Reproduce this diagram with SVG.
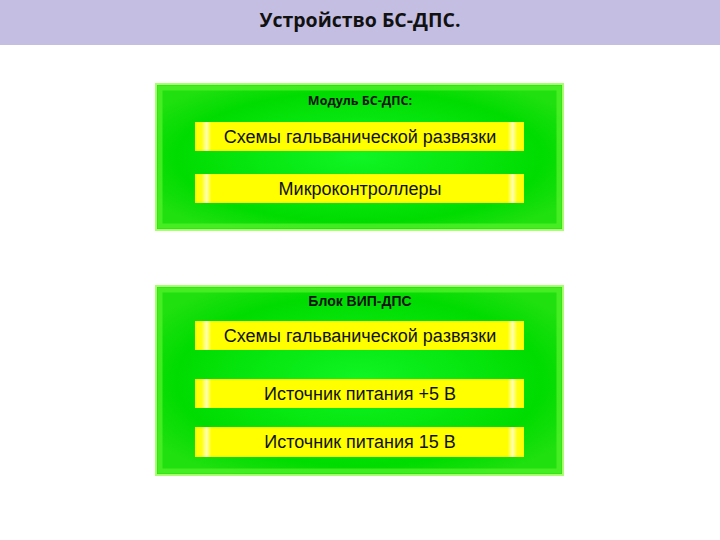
<svg xmlns="http://www.w3.org/2000/svg" width="720" height="540" viewBox="0 0 720 540">
<style>
.title{font-family:"Open Sans","Liberation Sans",sans-serif;font-weight:bold;font-size:19.5px;fill:#111;text-anchor:middle}
.hdr1{font-family:"Open Sans","Liberation Sans",sans-serif;font-weight:bold;font-size:12.5px;fill:#111;text-anchor:middle}
.hdr2{font-family:"Liberation Sans",sans-serif;font-weight:bold;font-size:14px;fill:#111;text-anchor:middle}
.lbl{font-family:"Liberation Sans",sans-serif;font-size:18px;fill:#111;text-anchor:middle}
.box{fill:url(#gg);stroke:#A8FF70;stroke-width:2}
.inner{fill:none;stroke:#50F028;stroke-width:5;opacity:0.8}
.bar{fill:url(#yg)}
</style>
<defs>
<radialGradient id="gg" cx="0.5" cy="0.5" r="0.6">
<stop offset="0" stop-color="#10F525"/>
<stop offset="0.75" stop-color="#00DC00"/>
<stop offset="1" stop-color="#20E010"/>
</radialGradient>
<linearGradient id="yg" x1="0" y1="0" x2="1" y2="0">
<stop offset="0" stop-color="#FFFF00"/>
<stop offset="0.02" stop-color="#FFFF10"/>
<stop offset="0.035" stop-color="#FFFFB0"/>
<stop offset="0.05" stop-color="#FFFF00"/>
<stop offset="0.95" stop-color="#FFFF00"/>
<stop offset="0.965" stop-color="#FFFFB0"/>
<stop offset="0.98" stop-color="#FFFF10"/>
<stop offset="1" stop-color="#FFFF00"/>
</linearGradient>
</defs>
<rect x="0" y="0" width="720" height="540" fill="#fff"/>
<rect x="0" y="0" width="720" height="45" fill="#C4BEE2"/>
<text class="title" x="360" y="27">Устройство БС-ДПС.</text>
<g id="module">
<rect class="box" x="156" y="84" width="407" height="146"/>
<rect class="inner" x="160" y="88" width="399" height="138"/>
<text class="hdr1" x="360" y="105">Модуль БС-ДПС:</text>
<g id="m-galv"><rect class="bar" x="195" y="122" width="329" height="29"/><text class="lbl" x="360" y="143">Схемы гальванической развязки</text></g>
<g id="m-mcu"><rect class="bar" x="195" y="174" width="329" height="29"/><text class="lbl" x="360" y="195">Микроконтроллеры</text></g>
</g>
<g id="vip">
<rect class="box" x="156" y="286" width="407" height="189"/>
<rect class="inner" x="160" y="290" width="399" height="181"/>
<text class="hdr2" x="360" y="306">Блок ВИП-ДПС</text>
<g id="v-galv"><rect class="bar" x="195" y="321" width="329" height="29"/><text class="lbl" x="360" y="342">Схемы гальванической развязки</text></g>
<g id="v-5"><rect class="bar" x="195" y="379" width="329" height="29"/><text class="lbl" x="360" y="400">Источник питания +5 В</text></g>
<g id="v-15"><rect class="bar" x="195" y="427" width="329" height="30"/><text class="lbl" x="360" y="448">Источник питания 15 В</text></g>
</g>
<g id="connectors"/>
</svg>
